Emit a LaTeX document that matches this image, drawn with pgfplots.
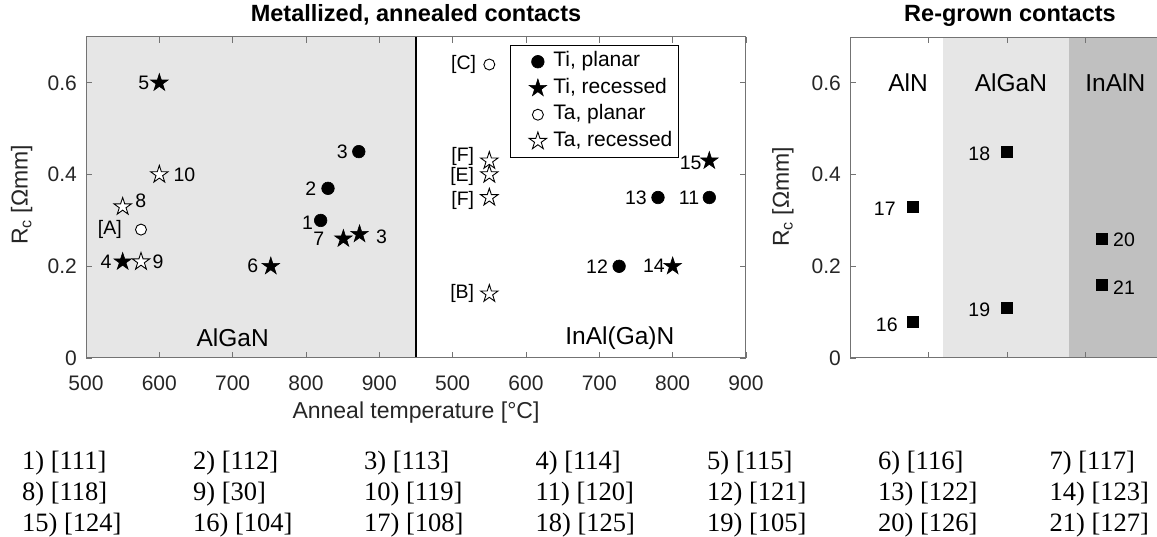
\documentclass[border=0pt]{standalone}
\usepackage{fontspec}
\setmainfont{Liberation Sans}
\newfontfamily\refsfont{Liberation Serif}
\usepackage{pgfplots}
\pgfplotsset{compat=1.18}

\definecolor{axgray}{gray}{0.15}
\definecolor{spine}{gray}{0.45}
\definecolor{panelA}{gray}{0.902}
\definecolor{panelB}{gray}{0.753}

% filled five-pointed star (pentagram) marker
\pgfdeclareplotmark{pentstar}{%
  \pgfpathmoveto{\pgfpointpolar{90}{\pgfplotmarksize}}%
  \pgfpathlineto{\pgfpointpolar{126}{0.382\pgfplotmarksize}}%
  \pgfpathlineto{\pgfpointpolar{162}{\pgfplotmarksize}}%
  \pgfpathlineto{\pgfpointpolar{198}{0.382\pgfplotmarksize}}%
  \pgfpathlineto{\pgfpointpolar{234}{\pgfplotmarksize}}%
  \pgfpathlineto{\pgfpointpolar{270}{0.382\pgfplotmarksize}}%
  \pgfpathlineto{\pgfpointpolar{306}{\pgfplotmarksize}}%
  \pgfpathlineto{\pgfpointpolar{342}{0.382\pgfplotmarksize}}%
  \pgfpathlineto{\pgfpointpolar{18}{\pgfplotmarksize}}%
  \pgfpathlineto{\pgfpointpolar{54}{0.382\pgfplotmarksize}}%
  \pgfpathclose
  \pgfusepathqfillstroke
}

\pgfplotsset{
  tiplanar/.style={only marks, black, mark=*, mark size=6.3pt,
    mark options={fill=black, draw=black, line width=0.6pt}},
  tirec/.style={only marks, black, mark=pentstar, mark size=9.2pt,
    mark options={fill=black, draw=black, line width=0.6pt}},
  taplanar/.style={only marks, black, mark=*, mark size=5.5pt,
    mark options={fill=white, draw=black, line width=0.9pt}},
  tarec/.style={only marks, black, mark=pentstar, mark size=9.2pt,
    mark options={fill=white, draw=black, line width=0.9pt}},
  common/.style={
    scale only axis, height=321pt, ymin=0, ymax=0.7,
    ytick={0,0.2,0.4,0.6}, yticklabels={0,0.2,0.4,0.6},
    tick align=inside, major tick length=6pt,
    tick style={spine, line width=0.9pt},
    axis line style={spine, line width=1pt},
    ticklabel style={font=\fontsize{21}{21}\selectfont, text=axgray, inner sep=0pt},
    xticklabel style={yshift=-17.5pt},
    yticklabel style={xshift=-9pt},
    axis on top, clip=false,
  },
}
\tikzset{
  lbl/.style={font=\fontsize{19.5}{19.5}\selectfont, inner sep=0pt, text=black},
  region/.style={font=\fontsize{24.5}{24.5}\selectfont, inner sep=0pt, text=black},
}

\begin{document}
\begin{tikzpicture}
\useasboundingbox (0,0) rectangle (1157pt,537pt);

% ---- metallized, annealed contacts (AlGaN | InAl(Ga)N; right half offset by 500) ----
\begin{axis}[common,
  at={(86pt,179pt)}, anchor=south west, width=660pt,
  xmin=500, xmax=1400,
  xtick={500,600,700,800,900,1000,1100,1200,1300,1400},
  xticklabels={500,600,700,800,900,500,600,700,800,900},
  legend style={at={(0.6424,0.975)}, anchor=north west, draw=black,
    line width=0.9pt, fill=white, inner xsep=3pt, inner ysep=3pt,
    font=\fontsize{21}{21}\selectfont, text=black,
    nodes={inner xsep=3pt, inner ysep=3.5pt, text height=15pt, text depth=4.5pt}},
  legend cell align=left,
  legend image code/.code={\path (0pt,0pt) (36pt,0pt);
    \draw[#1] plot coordinates {(24pt,0pt)};},
]
\fill[panelA] (axis cs:500,0) rectangle (axis cs:950,0.7);
\draw[black, line width=1.2pt] (axis cs:950,0) -- (axis cs:950,0.7);

\addplot[tiplanar] table[x expr=\thisrow{T}+500*\thisrow{panel}, y=Rc] {
T   Rc   panel
820 0.30 0
830 0.37 0
872 0.45 0
850 0.35 1
727 0.20 1
780 0.35 1
};
\addplot[tirec] table[x expr=\thisrow{T}+500*\thisrow{panel}, y=Rc] {
T   Rc   panel
873 0.27 0
550 0.21 0
600 0.60 0
752 0.20 0
851 0.26 0
800 0.20 1
850 0.43 1
};
\addplot[taplanar] table[x expr=\thisrow{T}+500*\thisrow{panel}, y=Rc] {
T   Rc   panel
575 0.28 0
550 0.64 1
};
\addplot[tarec] table[x expr=\thisrow{T}+500*\thisrow{panel}, y=Rc] {
T   Rc   panel
550 0.33 0
575 0.21 0
600 0.40 0
550 0.43 1
550 0.40 1
550 0.35 1
550 0.14 1
};
\legend{{Ti, planar}, {Ti, recessed}, {Ta, planar}, {Ta, recessed}}

% AlGaN labels
\node[lbl,anchor=east,xshift=-10pt] at (axis cs:600,0.60) {5};
\node[lbl,anchor=west,xshift=14pt] at (axis cs:600,0.40) {10};
\node[lbl,anchor=west,xshift=12.5pt,yshift=6pt] at (axis cs:550,0.33) {8};
\node[lbl,anchor=east,xshift=-19pt] at (axis cs:575,0.28) {[A]};
\node[lbl,anchor=east,xshift=-11pt] at (axis cs:550,0.21) {4};
\node[lbl,anchor=west,xshift=11.5pt] at (axis cs:575,0.21) {9};
\node[lbl,anchor=east,xshift=-12.5pt] at (axis cs:752,0.20) {6};
\node[lbl,anchor=east,xshift=-11pt] at (axis cs:872,0.45) {3};
\node[lbl,anchor=east,xshift=-11.5pt] at (axis cs:830,0.37) {2};
\node[lbl,anchor=east,xshift=-7.5pt,yshift=-2pt] at (axis cs:820,0.30) {1};
\node[lbl,anchor=east,xshift=-19pt] at (axis cs:851,0.26) {7};
\node[lbl,anchor=west,xshift=16.5pt,yshift=-3pt] at (axis cs:873,0.27) {3};
\node[region] at (axis cs:700,0.044) {AlGaN};

% InAl(Ga)N labels
\node[lbl,anchor=east,xshift=-13pt] at (axis cs:1050,0.64) {[C]};
\node[lbl,anchor=east,xshift=-15pt,yshift=4pt] at (axis cs:1050,0.43) {[F]};
\node[lbl,anchor=east,xshift=-15pt,yshift=-2pt] at (axis cs:1050,0.40) {[E]};
\node[lbl,anchor=east,xshift=-15pt,yshift=-3pt] at (axis cs:1050,0.35) {[F]};
\node[lbl,anchor=east,xshift=-15pt] at (axis cs:1050,0.14) {[B]};
\node[lbl,anchor=east,xshift=-7.6pt,yshift=-2pt] at (axis cs:1350,0.43) {15};
\node[lbl,anchor=east,xshift=-11pt] at (axis cs:1280,0.35) {13};
\node[lbl,anchor=east,xshift=-10pt] at (axis cs:1350,0.35) {11};
\node[lbl,anchor=east,xshift=-11pt] at (axis cs:1227,0.20) {12};
\node[lbl,anchor=east,xshift=-7.7pt] at (axis cs:1300,0.20) {14};
\node[region] at (axis cs:1228,0.044) {InAl(Ga)N};
\end{axis}

% ---- re-grown contacts ----
\begin{axis}[common,
  at={(850pt,179pt)}, anchor=south west, width=307pt,
  xmin=0, xmax=3.91, axis y line*=left,
  xtick={1,2,3}, xticklabels={},
]
\fill[white]  (axis cs:0,0)    rectangle (axis cs:1.185,0.7);
\fill[panelA] (axis cs:1.185,0) rectangle (axis cs:2.79,0.7);
\fill[panelB] (axis cs:2.79,0) rectangle (axis cs:3.91,0.7);
\addplot[only marks, black, mark=square*, mark size=5.5pt] table[x=g, y=Rc] {
g   Rc
0.8 0.08
0.8 0.33
2.0 0.45
2.0 0.11
3.2 0.26
3.2 0.16
};
\node[lbl,anchor=east,xshift=-15pt,yshift=-3pt] at (axis cs:0.8,0.08) {16};
\node[lbl,anchor=east,xshift=-17pt,yshift=-2pt] at (axis cs:0.8,0.33) {17};
\node[lbl,anchor=east,xshift=-16.7pt,yshift=-2pt] at (axis cs:2.0,0.45) {18};
\node[lbl,anchor=east,xshift=-16.7pt,yshift=-2pt] at (axis cs:2.0,0.11) {19};
\node[lbl,anchor=west,xshift=11.7pt,yshift=-1pt] at (axis cs:3.2,0.26) {20};
\node[lbl,anchor=west,xshift=11.7pt,yshift=-3pt] at (axis cs:3.2,0.16) {21};
\node[region] at (axis cs:0.74,0.6) {AlN};
\node[region] at (axis cs:2.05,0.6) {AlGaN};
\node[region] at (axis cs:3.38,0.6) {InAlN};
\end{axis}

% titles and axis labels
\node[font=\fontsize{23.5}{23.5}\selectfont\bfseries, text=black] at (416pt,522pt) {Metallized, annealed contacts};
\node[font=\fontsize{23.5}{23.5}\selectfont\bfseries, text=black] at (1010pt,521pt) {Re-grown contacts};
\node[font=\fontsize{23}{23}\selectfont, text=axgray] at (416pt,124pt) {Anneal temperature [°C]};
\node[font=\fontsize{23}{23}\selectfont, text=axgray, rotate=90] at (21.7pt,342pt) {R\textsubscript{c} [Ωmm]};
\node[font=\fontsize{23}{23}\selectfont, text=axgray, rotate=90] at (783pt,340pt) {R\textsubscript{c} [Ωmm]};

% reference key
\foreach \x/\a/\b/\c in {
  22/{1) [111]}/{8) [118]}/{15) [124]},
  193/{2) [112]}/{9) [30]}/{16) [104]},
  364/{3) [113]}/{10) [119]}/{17) [108]},
  535.5/{4) [114]}/{11) [120]}/{18) [125]},
  707/{5) [115]}/{12) [121]}/{19) [105]},
  878/{6) [116]}/{13) [122]}/{20) [126]},
  1049.5/{7) [117]}/{14) [123]}/{21) [127]}}{
  \node[anchor=base west, inner sep=0pt, font=\refsfont\fontsize{26.5}{26.5}\selectfont] at (\x pt,67.6pt) {\a};
  \node[anchor=base west, inner sep=0pt, font=\refsfont\fontsize{26.5}{26.5}\selectfont] at (\x pt,36.4pt) {\b};
  \node[anchor=base west, inner sep=0pt, font=\refsfont\fontsize{26.5}{26.5}\selectfont] at (\x pt,5pt) {\c};
}
\end{tikzpicture}
\end{document}
